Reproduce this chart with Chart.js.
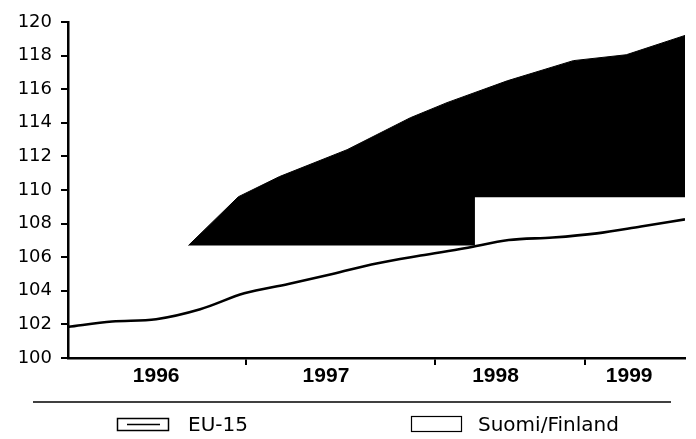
<!DOCTYPE html>
<html>
<head>
<meta charset="utf-8">
<script src="https://cdn.jsdelivr.net/npm/chart.js@4"></script>
<style>
  html, body { margin: 0; padding: 0; background: #fff; }
  canvas { display: block; }
</style>
</head>
<body>
<canvas id="chart" width="696" height="439"></canvas>
<script>
// x values are in months from the start of 1996 (as the scanned axis is drawn)
const euX = [0, 3, 6, 9, 12, 15, 18, 21, 24, 27, 30, 33, 36, 39, 42];
const eu15 = [101.85, 102.17, 102.31, 102.9, 103.85, 104.4, 105.0, 105.63, 106.1, 106.53, 107.02, 107.17, 107.42, 107.83, 108.25];

const finlandX = [8.2, 11.6, 14.4, 19.0, 23.3, 25.8, 29.9, 34.4, 38.0, 42];
const finland = [106.7, 109.6, 110.8, 112.4, 114.3, 115.2, 116.5, 117.7, 118.05, 119.2];

// lower edge of the dark area in the scan
const baseX = [8.2, 27.7, 42];
const baseY = [106.7, 109.57, 109.57];

const yearLabels = ["1996", "1997", "1998", "1999"];
const yearLabelAt = [6.0, 17.56, 29.1, 38.2];
const yearStartAt = [12.12, 24.98, 35.19];

const toPoints = (xs, ys) => xs.map((x, i) => ({ x, y: ys[i] }));

const legendPlugin = {
  id: "scanLegend",
  afterDraw(chart) {
    const ctx = chart.ctx;
    ctx.save();
    ctx.strokeStyle = "#000";
    ctx.fillStyle = "#000";

    ctx.lineWidth = 1.5;
    ctx.beginPath();
    ctx.moveTo(33, 402);
    ctx.lineTo(671, 402);
    ctx.stroke();

    // EU-15 key
    ctx.lineWidth = 1.5;
    ctx.strokeRect(117.5, 418.5, 51, 12);
    ctx.beginPath();
    ctx.moveTo(127, 424.5);
    ctx.lineTo(160, 424.5);
    ctx.stroke();

    // Suomi/Finland key
    ctx.lineWidth = 1.2;
    ctx.strokeRect(411.5, 416.5, 50, 15);

    ctx.font = '20px "DejaVu Sans"';
    ctx.textBaseline = "alphabetic";
    ctx.textAlign = "left";
    ctx.fillText(chart.data.datasets[0].label, 188, 431);
    ctx.fillText(chart.data.datasets[1].label, 478, 431);
    ctx.restore();
  }
};

new Chart(document.getElementById("chart").getContext("2d"), {
  type: "line",
  data: {
    datasets: [
      {
        label: "EU-15",
        data: toPoints(euX, eu15),
        borderColor: "#000",
        borderWidth: 2.6,
        pointRadius: 0,
        cubicInterpolationMode: "monotone",
        fill: false
      },
      {
        label: "Suomi/Finland",
        data: toPoints(finlandX, finland),
        borderColor: "#000",
        borderWidth: 1,
        backgroundColor: "#000",
        pointRadius: 0,
        tension: 0,
        fill: 2
      },
      {
        label: "",
        data: toPoints(baseX, baseY),
        borderColor: "rgba(0,0,0,0)",
        borderWidth: 0,
        pointRadius: 0,
        stepped: true,
        fill: false
      }
    ]
  },
  options: {
    responsive: false,
    animation: false,
    devicePixelRatio: 1,
    layout: { padding: { top: 22, right: 11, bottom: 41, left: 0 } },
    plugins: { legend: { display: false }, tooltip: { enabled: false } },
    scales: {
      x: {
        type: "linear",
        min: 0,
        max: 42,
        afterFit: (scale) => { scale.height = 40; },
        afterBuildTicks: (scale) => {
          const ticks = yearStartAt.map((v) => ({ value: v }))
            .concat(yearLabelAt.map((v) => ({ value: v })));
          ticks.sort((a, b) => a.value - b.value);
          scale.ticks = ticks;
        },
        border: { display: true, color: "#000", width: 2.5 },
        grid: {
          drawOnChartArea: false,
          drawTicks: true,
          tickLength: 7,
          lineWidth: 2,
          color: (ctx) => (ctx.tick && yearStartAt.includes(ctx.tick.value) ? "#000" : "rgba(0,0,0,0)")
        },
        ticks: {
          autoSkip: false,
          maxRotation: 0,
          padding: -1,
          color: "#000",
          font: { family: "Liberation Sans", size: 21, weight: "bold" },
          callback: (value) => {
            const i = yearLabelAt.indexOf(value);
            return i >= 0 ? yearLabels[i] : "";
          }
        }
      },
      y: {
        min: 100,
        max: 120,
        afterFit: (scale) => { scale.width = 68; },
        border: { display: true, color: "#000", width: 2.5 },
        grid: {
          drawOnChartArea: false,
          drawTicks: true,
          tickLength: 7,
          lineWidth: 2,
          color: "#000"
        },
        ticks: {
          stepSize: 2,
          padding: 9,
          color: "#000",
          font: { family: "DejaVu Sans", size: 18 }
        }
      }
    }
  },
  plugins: [legendPlugin]
});
</script>
</body>
</html>
